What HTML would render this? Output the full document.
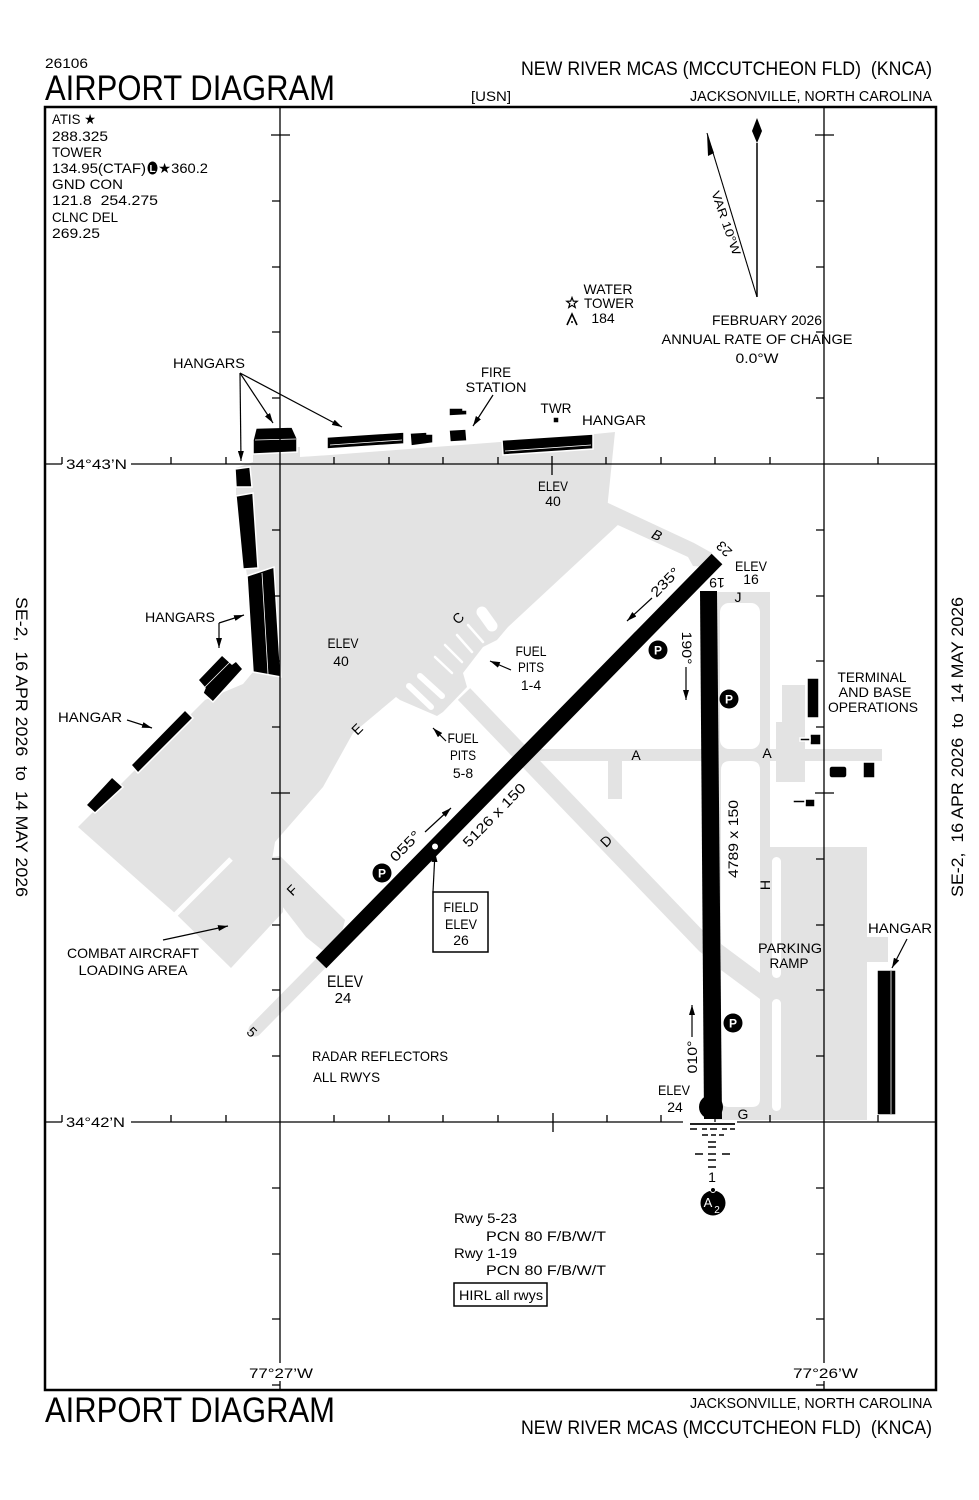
<!DOCTYPE html>
<html><head><meta charset="utf-8">
<style>
html,body{margin:0;padding:0;background:#fff;}
svg{display:block;}
text{font-family:"Liberation Sans",sans-serif;fill:#000;white-space:pre;}
</style></head><body>
<svg width="979" height="1500" viewBox="0 0 979 1500" xmlns="http://www.w3.org/2000/svg">
<defs>
<marker id="ah" viewBox="0 0 10 6" refX="10" refY="3" markerWidth="10" markerHeight="6" markerUnits="userSpaceOnUse" orient="auto">
<path d="M0,0 L10,3 L0,6 z" fill="#000"/>
</marker>
</defs>
<rect width="979" height="1500" fill="#fff"/>

<!-- gray pavement -->
<g fill="#e3e3e3">
<polygon points="253,447 300,447 300,457 330,455 500,442 595,434 615,432 608,500 607,512 620,523 508,627 497,640 483,647 463,673 467,687 443,712 437,716 400,700 396,697 353,733 323,787 275,842 272,860 283,872 283,912 231,968 176,914 78,827 205,700 243,684 253,672 247,576 236,496 236,468 253,462"/>
<polygon points="606,502 694,543 712,553 704,567 693,566 688,557 620,526 606,520"/>
<polygon points="265,858 280,856 345,920 340,940 322,950 306,937 262,880"/>
<rect x="520" y="749" width="362" height="12"/>
<rect x="608" y="759" width="14" height="40"/>
<rect x="716" y="592" width="54" height="528"/>
<rect x="770" y="847" width="97" height="273"/>
<rect x="867" y="937" width="21" height="25"/>
<polygon points="782,685 805,685 805,782 776,782 776,722 782,722"/>
</g>
<line x1="333" y1="951" x2="255" y2="1030" stroke="#e3e3e3" stroke-width="13" stroke-linecap="round"/>
<polyline points="464,694 705,945 768,992" fill="none" stroke="#e3e3e3" stroke-width="17"/>

<!-- white holes -->
<g fill="#fff">
<rect x="720" y="603" width="40" height="146" rx="9"/>
<path d="M721,770 Q721,761 730,761 L751,761 Q760,761 760,770 L760,973 L721,944 Z"/>
<path d="M721,970 L760,999 L760,1099 Q760,1107 752,1107 L729,1107 Q721,1107 721,1099 Z"/>
<rect x="772" y="857" width="9" height="121" rx="4.5"/>
<rect x="772" y="999" width="9" height="112" rx="4.5"/>
</g>
<g stroke="#fff" stroke-linecap="round">
<line x1="468" y1="625" x2="483" y2="642" stroke-width="2.5"/>
<line x1="457" y1="635" x2="472" y2="652" stroke-width="2.5"/>
<line x1="445" y1="645" x2="462" y2="662" stroke-width="2.5"/>
<line x1="435" y1="657" x2="452" y2="673" stroke-width="2.5"/>
<line x1="409" y1="686" x2="431" y2="707" stroke-width="6"/>
<line x1="420" y1="676" x2="442" y2="696" stroke-width="6"/>
<line x1="482" y1="612" x2="492" y2="626" stroke-width="11"/>
<line x1="174" y1="916" x2="231" y2="859" stroke-width="5" stroke-linecap="butt"/>
</g>

<!-- runways -->
<line x1="321" y1="963" x2="717" y2="559" stroke="#000" stroke-width="15"/>
<polygon points="700,591 717,591 722,1119 704,1119" fill="#000"/>
<circle cx="711" cy="1107" r="12" fill="#000"/>
<circle cx="435" cy="846.5" r="3" fill="#fff"/>

<!-- buildings -->
<g fill="#000" stroke="#fff" stroke-width="1.5">
<polygon points="256,428 292,427 297,438 297,452 253,454 253,440"/>
<polygon points="327,437 404,432 404,444 327,449"/>
<polygon points="410,433 427,432 427,434 433,434 433,443 411,446"/>
<polygon points="449,430 466,429 467,441 450,442"/>
<polygon points="449,408 463,408 463,410 467,410 467,415 449,416"/>
<polygon points="502,440 593,434 593,449 503,455"/>
<polygon points="235,469 250,467 252,487 236,487"/>
<polygon points="236,496 253,493 258,568 243,569"/>
<polygon points="247,576 274,567 281,677 253,672"/>
<polygon points="198,680 222,655 232,664 236,661 243,669 213,702 203,693 205,688"/>
<polygon points="131,765 185,710 193,718 138,773"/>
<polygon points="86,805 112,777 123,787 95,813"/>
<rect x="807" y="678" width="12" height="40"/>
<rect x="810" y="734" width="11" height="11"/>
<rect x="800" y="738" width="10" height="3"/>
<rect x="829" y="766" width="18" height="12" rx="3"/>
<rect x="863" y="762" width="12" height="16"/>
<rect x="805" y="799" width="10" height="8"/>
<rect x="793" y="800" width="12" height="3"/>
<rect x="877" y="970" width="19" height="145"/>
<rect x="553" y="417" width="6" height="6"/>
</g>
<g stroke="#fff" stroke-width="0.8">
<line x1="255" y1="440" x2="296" y2="439"/>
<line x1="330" y1="445" x2="402" y2="440"/>
<line x1="505" y1="451" x2="591" y2="445"/>
<line x1="262" y1="573" x2="268" y2="674"/>
<line x1="891" y1="971" x2="891" y2="1114"/>
<line x1="202" y1="690" x2="232" y2="660"/>
</g>

<!-- grid -->
<g stroke="#000" stroke-width="1.3" fill="none">
<path d="M45,464H62 M131,464H936 M45,1122H62 M131,1122H683 M737,1122H936 M280,107V1363 M280,1381V1390 M824,107V1363 M824,1381V1390"/>
<path d="M62,457V464 M171,457V464 M226,457V464 M334,457V464 M389,457V464 M443,457V464 M498,457V464 M606,457V464 M661,457V464 M715,457V464 M770,457V464 M878,457V464 M552,456V475"/>
<path d="M62,1115V1122 M171,1115V1122 M226,1115V1122 M334,1115V1122 M389,1115V1122 M443,1115V1122 M498,1115V1122 M607,1115V1122 M661,1115V1122 M715,1115V1122 M770,1115V1122 M878,1115V1122 M553,1113V1132"/>
<path d="M272,201H280 M272,267H280 M272,332H280 M272,398H280 M272,530H280 M272,596H280 M272,661H280 M272,727H280 M272,859H280 M272,925H280 M272,990H280 M272,1056H280 M272,1188H280 M272,1254H280 M272,1319H280 M272,1385H280 M271,135H290 M271,793H290"/>
<path d="M816,201H824 M816,267H824 M816,332H824 M816,398H824 M816,530H824 M816,596H824 M816,661H824 M816,727H824 M816,859H824 M816,925H824 M816,990H824 M816,1056H824 M816,1188H824 M816,1254H824 M816,1319H824 M816,1385H824 M815,135H834 M815,793H834"/>
</g>
<rect x="45" y="107" width="891" height="1283" fill="none" stroke="#000" stroke-width="2.5"/>

<!-- approach lights -->
<g stroke="#000" stroke-width="1.4">
<path d="M690,1124H735" stroke-width="1.8"/>
<path d="M690,1129H697 M702,1129H707 M710,1129H717 M722,1129H727 M730,1129H735"/>
<path d="M702,1135H708 M711,1135H716 M719,1135H724"/>
<path d="M708,1142H716 M708,1147H716 M695,1154H703 M708,1154H716 M722,1154H730 M708,1160H716 M708,1167H716"/>
</g>
<circle cx="713" cy="1203" r="12.5" fill="#000"/>
<circle cx="713" cy="1190" r="2.5" fill="#000" stroke="#fff" stroke-width="1"/>
<text x="708" y="1207" font-size="13" fill="#fff" text-anchor="middle" style="fill:#fff">A</text>
<text x="717" y="1213" font-size="10" text-anchor="middle" style="fill:#fff">2</text>

<!-- P circles -->
<g fill="#000">
<circle cx="382" cy="873" r="9.5"/>
<circle cx="658" cy="650" r="9.5"/>
<circle cx="729" cy="699" r="9.5"/>
<circle cx="733" cy="1023" r="9.5"/>
</g>
<g font-size="12" font-weight="bold" text-anchor="middle">
<text x="382" y="877.5" style="fill:#fff">P</text>
<text x="658" y="654.5" style="fill:#fff">P</text>
<text x="729" y="703.5" style="fill:#fff">P</text>
<text x="733" y="1027.5" style="fill:#fff">P</text>
</g>

<!-- arrows -->
<g stroke="#000" stroke-width="1.2" fill="none" marker-end="url(#ah)">
<line x1="240" y1="373" x2="241" y2="461"/>
<line x1="240" y1="373" x2="273" y2="423"/>
<line x1="240" y1="373" x2="342" y2="427"/>
<line x1="493" y1="395" x2="473" y2="426"/>
<line x1="219" y1="623" x2="244" y2="615"/>
<line x1="219" y1="623" x2="219" y2="648"/>
<line x1="127" y1="720" x2="152" y2="728"/>
<line x1="511" y1="670" x2="490" y2="661"/>
<line x1="446" y1="741" x2="433" y2="728"/>
<line x1="163" y1="940" x2="228" y2="926"/>
<line x1="907" y1="939" x2="892" y2="968"/>
<line x1="652" y1="598" x2="627" y2="621"/>
<line x1="425" y1="832" x2="451" y2="808"/>
<line x1="686" y1="667" x2="686" y2="700"/>
<line x1="692" y1="1037" x2="692" y2="1005"/>
<line x1="433" y1="892" x2="435" y2="852"/>
</g>

<!-- field elev box -->
<rect x="433" y="892" width="55" height="60" fill="#fff" stroke="#000" stroke-width="1.5"/>
<g font-size="14" text-anchor="middle">
<text x="461" y="912" textLength="35" lengthAdjust="spacingAndGlyphs">FIELD</text>
<text x="461" y="929" textLength="32" lengthAdjust="spacingAndGlyphs">ELEV</text>
<text x="461" y="945">26</text>
</g>

<!-- compass -->
<line x1="757" y1="143" x2="757" y2="297" stroke="#000" stroke-width="1.5"/>
<polygon points="757,118 762,131 757,143 752,131" fill="#000"/>
<line x1="757" y1="297" x2="707" y2="133" stroke="#000" stroke-width="1.1"/>
<polygon points="707,133 714,153 708,156" fill="#000"/>
<text transform="translate(726,223) rotate(71)" x="0" y="4" font-size="12" text-anchor="middle" textLength="67" lengthAdjust="spacingAndGlyphs">VAR 10°W</text>

<!-- water tower symbol -->
<polygon points="572,297.5 573.35,301.14 577.23,301.3 574.19,303.71 575.23,307.45 572,305.3 568.77,307.45 569.81,303.71 566.77,301.3 570.65,301.14" fill="#fff" stroke="#000" stroke-width="1.2"/>
<path d="M567,325 L572,314 L577,325" fill="none" stroke="#000" stroke-width="1.6"/>
<circle cx="572" cy="322" r="1" fill="#000"/>

<!-- ATIS L symbol -->
<ellipse cx="152.5" cy="168" rx="5" ry="6.5" fill="#000"/>
<text x="152.5" y="172" font-size="10" font-weight="bold" text-anchor="middle" style="fill:#fff">L</text>

<!-- header/footer -->
<text x="45" y="68" font-size="14" textLength="43" lengthAdjust="spacingAndGlyphs">26106</text>
<text x="45" y="100" font-size="35" textLength="290" lengthAdjust="spacingAndGlyphs">AIRPORT DIAGRAM</text>
<text x="521" y="75" font-size="19" textLength="411" lengthAdjust="spacingAndGlyphs">NEW RIVER MCAS (MCCUTCHEON FLD)  (KNCA)</text>
<text x="471" y="101" font-size="14" textLength="40" lengthAdjust="spacingAndGlyphs">[USN]</text>
<text x="690" y="101" font-size="15" textLength="242" lengthAdjust="spacingAndGlyphs">JACKSONVILLE, NORTH CAROLINA</text>
<text x="45" y="1422" font-size="35" textLength="290" lengthAdjust="spacingAndGlyphs">AIRPORT DIAGRAM</text>
<text x="690" y="1408" font-size="15" textLength="242" lengthAdjust="spacingAndGlyphs">JACKSONVILLE, NORTH CAROLINA</text>
<text x="521" y="1434" font-size="19" textLength="411" lengthAdjust="spacingAndGlyphs">NEW RIVER MCAS (MCCUTCHEON FLD)  (KNCA)</text>
<text transform="translate(22,747) rotate(90)" x="0" y="6" font-size="17" text-anchor="middle" textLength="300" lengthAdjust="spacingAndGlyphs">SE-2,  16 APR 2026  to  14 MAY 2026</text>
<text transform="translate(957,747) rotate(-90)" x="0" y="6" font-size="17" text-anchor="middle" textLength="300" lengthAdjust="spacingAndGlyphs">SE-2,  16 APR 2026  to  14 MAY 2026</text>

<!-- ATIS block -->
<g font-size="14">
<text x="52" y="124" textLength="44" lengthAdjust="spacingAndGlyphs">ATIS ★</text>
<text x="52" y="141" textLength="56" lengthAdjust="spacingAndGlyphs">288.325</text>
<text x="52" y="157" textLength="50" lengthAdjust="spacingAndGlyphs">TOWER</text>
<text x="52" y="173" textLength="94" lengthAdjust="spacingAndGlyphs">134.95(CTAF)</text>
<text x="158" y="173" textLength="50" lengthAdjust="spacingAndGlyphs">★360.2</text>
<text x="52" y="189" textLength="71" lengthAdjust="spacingAndGlyphs">GND CON</text>
<text x="52" y="205" textLength="106" lengthAdjust="spacingAndGlyphs">121.8  254.275</text>
<text x="52" y="222" textLength="66" lengthAdjust="spacingAndGlyphs">CLNC DEL</text>
<text x="52" y="238" textLength="48" lengthAdjust="spacingAndGlyphs">269.25</text>
</g>

<!-- grid labels -->
<g font-size="14">
<text x="66" y="469" textLength="61" lengthAdjust="spacingAndGlyphs">34°43’N</text>
<text x="66" y="1127" textLength="59" lengthAdjust="spacingAndGlyphs">34°42’N</text>
<text x="249" y="1378" textLength="64" lengthAdjust="spacingAndGlyphs">77°27’W</text>
<text x="793" y="1378" textLength="65" lengthAdjust="spacingAndGlyphs">77°26’W</text>
</g>

<!-- map labels -->
<g font-size="14" text-anchor="middle">
<text x="209" y="368" textLength="72" lengthAdjust="spacingAndGlyphs">HANGARS</text>
<text x="496" y="377" textLength="30" lengthAdjust="spacingAndGlyphs">FIRE</text>
<text x="496" y="392" textLength="61" lengthAdjust="spacingAndGlyphs">STATION</text>
<text x="556" y="413" textLength="31" lengthAdjust="spacingAndGlyphs">TWR</text>
<text x="614" y="425" textLength="64" lengthAdjust="spacingAndGlyphs">HANGAR</text>
<text x="608" y="294" textLength="49" lengthAdjust="spacingAndGlyphs">WATER</text>
<text x="609" y="308" textLength="50" lengthAdjust="spacingAndGlyphs">TOWER</text>
<text x="603" y="323">184</text>
<text x="767" y="325" textLength="110" lengthAdjust="spacingAndGlyphs">FEBRUARY 2026</text>
<text x="757" y="344" textLength="191" lengthAdjust="spacingAndGlyphs">ANNUAL RATE OF CHANGE</text>
<text x="757" y="363" textLength="43" lengthAdjust="spacingAndGlyphs">0.0°W</text>
<text x="553" y="491" textLength="30" lengthAdjust="spacingAndGlyphs">ELEV</text>
<text x="553" y="506">40</text>
<text x="751" y="571" textLength="32" lengthAdjust="spacingAndGlyphs">ELEV</text>
<text x="751" y="584">16</text>
<text x="738" y="602">J</text>
<text x="180" y="622" textLength="70" lengthAdjust="spacingAndGlyphs">HANGARS</text>
<text x="343" y="648" textLength="31" lengthAdjust="spacingAndGlyphs">ELEV</text>
<text x="341" y="666">40</text>
<text x="531" y="656" textLength="31" lengthAdjust="spacingAndGlyphs">FUEL</text>
<text x="531" y="672" textLength="26" lengthAdjust="spacingAndGlyphs">PITS</text>
<text x="531" y="690">1-4</text>
<text x="90" y="722" textLength="64" lengthAdjust="spacingAndGlyphs">HANGAR</text>
<text x="463" y="743" textLength="31" lengthAdjust="spacingAndGlyphs">FUEL</text>
<text x="463" y="760" textLength="26" lengthAdjust="spacingAndGlyphs">PITS</text>
<text x="463" y="778">5-8</text>
<text x="636" y="760">A</text>
<text x="767" y="758">A</text>
<text x="872" y="682" textLength="69" lengthAdjust="spacingAndGlyphs">TERMINAL</text>
<text x="875" y="697" textLength="73" lengthAdjust="spacingAndGlyphs">AND BASE</text>
<text x="873" y="712" textLength="90" lengthAdjust="spacingAndGlyphs">OPERATIONS</text>
<text x="133" y="958" textLength="132" lengthAdjust="spacingAndGlyphs">COMBAT AIRCRAFT</text>
<text x="133" y="975" textLength="109" lengthAdjust="spacingAndGlyphs">LOADING AREA</text>
<text x="790" y="953" textLength="64" lengthAdjust="spacingAndGlyphs">PARKING</text>
<text x="789" y="968" textLength="39" lengthAdjust="spacingAndGlyphs">RAMP</text>
<text x="900" y="933" textLength="64" lengthAdjust="spacingAndGlyphs">HANGAR</text>
<text x="345" y="987" font-size="17" textLength="36" lengthAdjust="spacingAndGlyphs">ELEV</text>
<text x="343" y="1003" font-size="15">24</text>
<text x="674" y="1095" textLength="32" lengthAdjust="spacingAndGlyphs">ELEV</text>
<text x="675" y="1112">24</text>
<text x="743" y="1119">G</text>
<text x="712" y="1182">1</text>
</g>
<g font-size="14">
<text x="312" y="1061" textLength="136" lengthAdjust="spacingAndGlyphs">RADAR REFLECTORS</text>
<text x="313" y="1082" textLength="67" lengthAdjust="spacingAndGlyphs">ALL RWYS</text>
<text x="454" y="1223" textLength="63" lengthAdjust="spacingAndGlyphs">Rwy 5-23</text>
<text x="486" y="1241" textLength="120" lengthAdjust="spacingAndGlyphs">PCN 80 F/B/W/T</text>
<text x="454" y="1258" textLength="63" lengthAdjust="spacingAndGlyphs">Rwy 1-19</text>
<text x="486" y="1275" textLength="120" lengthAdjust="spacingAndGlyphs">PCN 80 F/B/W/T</text>
<text x="459" y="1300" textLength="84" lengthAdjust="spacingAndGlyphs">HIRL all rwys</text>
</g>
<rect x="454" y="1283" width="93" height="23" fill="none" stroke="#000" stroke-width="1.5"/>

<!-- rotated labels -->
<g font-size="14" text-anchor="middle">
<text transform="translate(717,583) rotate(180)" x="0" y="5">19</text>
<text transform="translate(724,549) rotate(225)" x="0" y="5">23</text>
<text transform="translate(252,1032) rotate(45)" x="0" y="5">5</text>
<text transform="translate(657,535) rotate(25)" x="0" y="5" font-style="italic">B</text>
<text transform="translate(458,618) rotate(-45)" x="0" y="5">C</text>
<text transform="translate(357,729) rotate(-45)" x="0" y="5">E</text>
<text transform="translate(606,841) rotate(-45)" x="0" y="5">D</text>
<text transform="translate(292,890) rotate(-45)" x="0" y="5">F</text>
<text transform="translate(494,815) rotate(-45.6)" x="0" y="5" textLength="83" lengthAdjust="spacingAndGlyphs">5126 x 150</text>
<text transform="translate(405,846) rotate(-45.6)" x="0" y="5" textLength="37" lengthAdjust="spacingAndGlyphs">055°</text>
<text transform="translate(665,582) rotate(-45.6)" x="0" y="5" textLength="35" lengthAdjust="spacingAndGlyphs">235°</text>
<text transform="translate(687,648) rotate(90)" x="0" y="5" textLength="33" lengthAdjust="spacingAndGlyphs">190°</text>
<text transform="translate(733,839) rotate(-90)" x="0" y="5" textLength="78" lengthAdjust="spacingAndGlyphs">4789 x 150</text>
<text transform="translate(765,885) rotate(-90)" x="0" y="5">H</text>
<text transform="translate(692,1057) rotate(-90)" x="0" y="5" textLength="33" lengthAdjust="spacingAndGlyphs">010°</text>
</g>
</svg>
</body></html>
